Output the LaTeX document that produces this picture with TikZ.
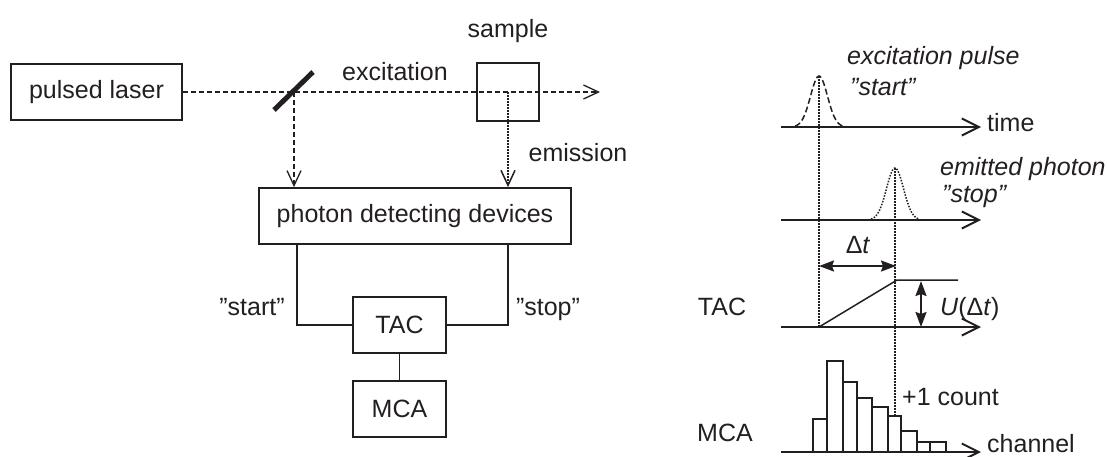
\documentclass[tikz,border=0pt]{standalone}
\usepackage{fontspec}
\setmainfont{Liberation Sans}
\usetikzlibrary{arrows.meta}
\definecolor{ink}{RGB}{35,31,32}
\begin{document}
\begin{tikzpicture}[x=1pt, y=-1pt, color=ink, font=\fontsize{25}{30}\selectfont,
  box/.style={draw, line width=1.8pt, inner sep=0pt, minimum height=56pt},
  wire/.style={line width=1.5pt},
  beam/.style={line width=1.3pt, dash pattern=on 5pt off 3pt, -{Straight Barb[length=15pt,width=14pt]}},
  glow/.style={line width=1.5pt, dash pattern=on 1.5pt off 1.5pt, -{Straight Barb[length=15pt,width=14pt]}},
  axis/.style={line width=2pt, -{Straight Barb[length=17pt,width=17pt]}},
  guide/.style={line width=1.5pt, dash pattern=on 1.5pt off 1.5pt},
  dim/.style={line width=2pt, {Stealth[length=15pt,width=11pt,inset=2pt]}-{Stealth[length=15pt,width=11pt,inset=2pt]}},
  lbl/.style={inner sep=0pt, anchor=base},
  itlbl/.style={inner sep=0pt, anchor=base west, font=\fontsize{25}{30}\selectfont\itshape}]
  \useasboundingbox (0,0) rectangle (1107,456);

  % set-up
  \node[box, minimum width=171pt] (laser) at (96.5,92) {pulsed laser};
  \node[box, minimum width=62pt, minimum height=58pt] (sample) at (508,92) {};
  \node[box, minimum width=312pt] (detector) at (415,216) {photon detecting devices};
  \node[box, minimum width=93pt] (tac) at (399.5,325) {TAC};
  \node[box, minimum width=93pt] (mca) at (399.5,409) {MCA};
  \coordinate (mirror) at (294,92);
  \coordinate (beamend) at (600,92);
  \draw[line width=5pt] (274,110) -- (313,72);
  \draw[beam] (laser.east) -- (beamend);
  \draw[beam] (mirror) -- (detector.north -| mirror);
  \draw[glow] (sample.center) -- (detector.north -| sample.center);
  \draw[wire] ([xshift=-118pt]detector.south) |- (tac.west);
  \draw[wire] (detector.south -| sample.center) |- (tac.east);
  \draw[wire] (tac) -- (mca);
  \node[lbl] (exclbl) at (395,80) {excitation};
  \node[lbl] (samplelbl) at (508,37) {sample};
  \node[lbl] (emlbl) at (578,161) {emission};
  \node[lbl] (startlbl) at (252,315) {”start”};
  \node[lbl] (stoplbl) at (548,315) {”stop”};

  % time axes
  \foreach \y/\n in {127/t, 220/e, 327/u, 452/c} {
    \coordinate (\n0) at (781,\y);
    \coordinate (\n1) at (981,\y);
    \draw[axis] (\n0) -- (\n1);
  }
  \node[lbl, anchor=base west] (timelbl) at (987,131) {time};
  \node[lbl, anchor=base west] (chanlbl) at (987,452) {channel};
  \node[lbl] (taclbl) at (722,315) {TAC};
  \node[lbl] (mcalbl) at (725,441) {MCA};

  % pulses
  \coordinate (peakA) at (819,76);
  \coordinate (peakB) at (895,168);
  \draw[line width=1.5pt, dash pattern=on 6pt off 3pt] plot[domain=-24:24, samples=41] ({819+\x}, {127-51*exp(-(\x/12)*(\x/12))});
  \draw[guide] plot[domain=-24:24, samples=41] ({895+\x}, {220-52*exp(-(\x/12)*(\x/12))});
  \node[itlbl] (pulselbl) at (847,64) {excitation pulse};
  \node[itlbl] (startit) at (850,95) {”start”};
  \node[itlbl] (photonlbl) at (940,175) {emitted photon};
  \node[itlbl] (stopit) at (942,202) {”stop”};

  % TAC ramp
  \coordinate (hit) at (895,416);
  \draw[guide] (peakA) -- (peakA |- u0);
  \draw[guide] (peakB) -- (hit);
  \draw[dim] (819,266) -- (896,266);
  \node[lbl] (dtlbl) at (858,253) {Δ\textit{t}};
  \draw[wire] (peakA |- u0) -- (897,280) -- (958,280);
  \draw[dim] (921,281) -- (921,327);
  \node[lbl, anchor=base west] (ulbl) at (940,315) {\textit{U}(Δ\textit{t})};

  % MCA histogram
  \foreach \l/\r/\h in {813/827/419, 827/843/361, 843/857/382, 857/872/398, 872/888/407,
                        888/901/416, 901/917/431, 917/930/442, 930/946/442} {
    \draw[line width=1.8pt] (\l,452) rectangle (\r,\h);
  }
  \node[lbl, anchor=base west] (countlbl) at (902,405) {+1 count};
\end{tikzpicture}
\end{document}
